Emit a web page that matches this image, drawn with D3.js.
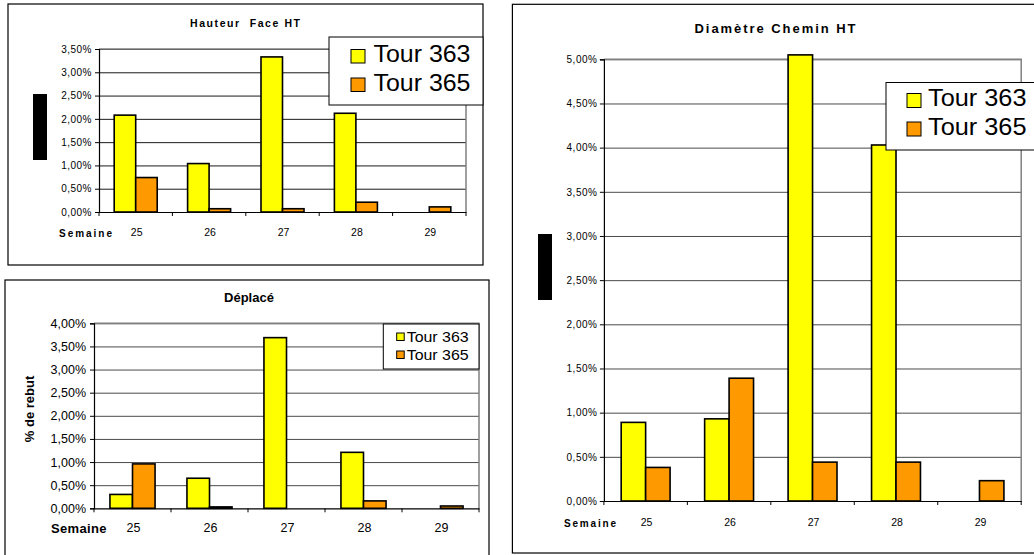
<!DOCTYPE html>
<html>
<head>
<meta charset="utf-8">
<script src="https://cdn.jsdelivr.net/npm/d3@7/dist/d3.min.js"></script>
<style>
  html, body { margin: 0; padding: 0; background: #fff; }
  svg { display: block; font-family: "Liberation Sans", Arial, sans-serif; }
</style>
</head>
<body>
<svg id="chart" width="1034" height="555"></svg>
<script>
// ---- Data ----
const weeks = ["25", "26", "27", "28", "29"];
const seriesNames = ["Tour 363", "Tour 365"];
const seriesColors = ["#FFFF00", "#FF9900"];

const hauteur363 = [2.08, 1.04, 3.33, 2.12, 0];
const hauteur365 = [0.74, 0.07, 0.07, 0.21, 0.11];

const deplace363 = [0.30, 0.65, 3.69, 1.21, 0];
const deplace365 = [0.96, 0.03, 0, 0.16, 0.05];

const diametre363 = [0.89, 0.93, 5.05, 4.03, 0];
const diametre365 = [0.38, 1.39, 0.44, 0.44, 0.23];

const ticksHauteur = [0, 0.5, 1, 1.5, 2, 2.5, 3, 3.5];
const ticksDeplace = [0, 0.5, 1, 1.5, 2, 2.5, 3, 3.5, 4];
const ticksDiametre = [0, 0.5, 1, 1.5, 2, 2.5, 3, 3.5, 4, 4.5, 5];

const titles = ["Hauteur  Face HT", "Déplacé", "Diamètre Chemin HT"];
const xAxisName = "Semaine";
const yAxisName = "% de rebut";

const pctFmt = v => d3.format(".2f")(v).replace(".", ",") + "%";

// ---- Layout configs ----
const charts = [
  {
    title: titles[0], titleX: 245, titleY: 26.7, titleSize: 10.5, titleLen: 110,
    box: [8, 4, 483, 265], plot: [99, 49, 466, 212],
    ticks: ticksHauteur, series: [hauteur363, hauteur365],
    ySize: 10, yGap: 7, ySpacing: 0.5,
    xLabelY: 235.7, xSize: 10.5,
    semaine: { x: 59, y: 237.3, size: 10, len: 53 },
    legend: { box: [329, 37, 483, 105], sx: 351, sy: 49.5, sw: 14, sh: 13.5, dy: 28.5, tx: 373.5, ty: 62.3, size: 24.5, len: 97 },
    blackRect: [33, 94, 14, 66], grid: "#1a1a1a"
  },
  {
    title: titles[1], titleX: 249, titleY: 301.7, titleSize: 13, titleLen: null,
    box: [5, 280, 489, 558], plot: [94, 323.3, 479, 508.3],
    ticks: ticksDeplace, series: [deplace363, deplace365],
    ySize: 12.5, yGap: 8, ySpacing: 0,
    xLabelY: 531.7, xSize: 12.5,
    semaine: { x: 51, y: 533.3, size: 13, len: 55.5 },
    legend: { box: [383.3, 324, 479, 369], sx: 396.7, sy: 333, sw: 7.5, sh: 7.5, dy: 18, tx: 406.7, ty: 341.7, size: 15, len: 62 },
    yTitle: { x: 34, y: 409, size: 13 }, grid: "#4a4a4a"
  },
  {
    title: titles[2], titleX: 775, titleY: 33.3, titleSize: 13, titleLen: 161,
    box: [512.4, 4.3, 1040, 553], plot: [603.9, 59.3, 1021.2, 501],
    ticks: ticksDiametre, series: [diametre363, diametre365],
    ySize: 10, yGap: 6.5, ySpacing: 0.5,
    xLabelY: 525.7, xSize: 10.5,
    semaine: { x: 564, y: 527, size: 10, len: 52 },
    legend: { box: [886, 82.5, 1040, 150], sx: 907, sy: 93.5, sw: 14, sh: 14, dy: 28.5, tx: 928, ty: 106, size: 24.5, len: 98.5 },
    blackRect: [538, 234, 14, 66], grid: "#4a4a4a"
  }
];

const svg = d3.select("#chart");

charts.forEach(cfg => {
  const g = svg.append("g");
  const [bx0, by0, bx1, by1] = cfg.box;
  const [px0, py0, px1, py1] = cfg.plot;

  // Outer frame
  g.append("rect")
    .attr("x", bx0).attr("y", by0)
    .attr("width", bx1 - bx0).attr("height", by1 - by0)
    .attr("fill", "#fff").attr("stroke", "#000").attr("stroke-width", 1.2);

  // Scales
  const x0 = d3.scaleBand().domain(weeks).range([px0, px1]).padding(0);
  const bw = x0.bandwidth();
  const x1 = d3.scaleBand().domain(seriesNames).range([bw * 0.207, bw * 0.793]).padding(0);
  const y = d3.scaleLinear().domain([0, d3.max(cfg.ticks)]).range([py1, py0]);

  // Gridlines
  const grid = g.append("g")
    .attr("transform", `translate(${px0},0)`)
    .call(d3.axisLeft(y).tickValues(cfg.ticks.slice(1)).tickSize(-(px1 - px0)).tickFormat(""));
  grid.select(".domain").remove();
  grid.selectAll("line").attr("stroke", cfg.grid).attr("stroke-width", 1);

  // Plot area border (top & right in gray)
  g.append("path")
    .attr("d", `M${px0},${y(d3.max(cfg.ticks))}H${px1}V${py1}`)
    .attr("fill", "none").attr("stroke", "#808080").attr("stroke-width", 1.5);

  // Bars
  cfg.series.forEach((vals, si) => {
    g.append("g").selectAll("rect")
      .data(weeks.map((w, i) => ({ w, v: vals[i] })).filter(d => d.v > 0))
      .join("rect")
      .attr("x", d => x0(d.w) + x1(seriesNames[si]))
      .attr("y", d => y(d.v))
      .attr("width", x1.bandwidth())
      .attr("height", d => y(0) - y(d.v))
      .attr("fill", seriesColors[si])
      .attr("stroke", "#000")
      .attr("stroke-width", 1.6);
  });

  // Y axis
  const yAx = g.append("g")
    .attr("transform", `translate(${px0},0)`)
    .call(d3.axisLeft(y).tickValues(cfg.ticks).tickSize(4).tickPadding(cfg.yGap - 4).tickFormat(pctFmt));
  yAx.select(".domain").attr("stroke", "#000").attr("stroke-width", 1.2);
  yAx.selectAll(".tick line").attr("stroke", "#000");
  yAx.selectAll("text")
    .attr("fill", "#000")
    .style("font-size", cfg.ySize + "px")
    .style("letter-spacing", cfg.ySpacing + "px")
    .style("font-family", '"Liberation Sans", Arial, sans-serif');

  // X axis line with boundary ticks
  const xAx = g.append("g")
    .attr("transform", `translate(0,${py1})`)
    .call(d3.axisBottom(x0).tickSize(0).tickFormat(""));
  xAx.select(".domain").attr("stroke", "#000").attr("stroke-width", 1.2);
  xAx.selectAll(".tick").remove();
  const bounds = weeks.map(w => x0(w)).concat([x0(weeks[weeks.length - 1]) + bw]);
  g.append("g").selectAll("line")
    .data(bounds)
    .join("line")
    .attr("x1", d => d).attr("x2", d => d)
    .attr("y1", py1).attr("y2", py1 + 4)
    .attr("stroke", "#000").attr("stroke-width", 1);

  // X tick labels
  g.append("g").selectAll("text")
    .data(weeks)
    .join("text")
    .attr("x", d => x0(d) + bw / 2 + 1)
    .attr("y", cfg.xLabelY)
    .attr("text-anchor", "middle")
    .style("font-size", cfg.xSize + "px")
    .text(d => d);

  // "Semaine"
  g.append("text")
    .attr("x", cfg.semaine.x).attr("y", cfg.semaine.y)
    .attr("font-weight", "bold")
    .style("font-size", cfg.semaine.size + "px")
    .attr("textLength", cfg.semaine.len)
    .attr("lengthAdjust", "spacing")
    .text(xAxisName);

  // Title
  const t = g.append("text")
    .attr("x", cfg.titleX).attr("y", cfg.titleY)
    .attr("text-anchor", "middle")
    .attr("font-weight", "bold")
    .style("font-size", cfg.titleSize + "px")
    .style("white-space", "pre")
    .attr("xml:space", "preserve")
    .text(cfg.title);
  if (cfg.titleLen) t.attr("textLength", cfg.titleLen).attr("lengthAdjust", "spacing");

  // Y title
  if (cfg.yTitle) {
    g.append("text")
      .attr("transform", `translate(${cfg.yTitle.x},${cfg.yTitle.y}) rotate(-90)`)
      .attr("text-anchor", "middle")
      .attr("font-weight", "bold")
      .style("font-size", cfg.yTitle.size + "px")
      .text(yAxisName);
  }

  // Black redaction block
  if (cfg.blackRect) {
    const [rx, ry, rw, rh] = cfg.blackRect;
    g.append("rect").attr("x", rx).attr("y", ry).attr("width", rw).attr("height", rh).attr("fill", "#000");
  }

  // Legend
  const L = cfg.legend;
  const [lx0, ly0, lx1, ly1] = L.box;
  g.append("rect")
    .attr("x", lx0).attr("y", ly0).attr("width", lx1 - lx0).attr("height", ly1 - ly0)
    .attr("fill", "#fff").attr("stroke", "#000").attr("stroke-width", 1);
  const items = g.append("g").selectAll("g").data(seriesNames).join("g");
  items.append("rect")
    .attr("x", L.sx).attr("y", (d, i) => L.sy + i * L.dy)
    .attr("width", L.sw).attr("height", L.sh)
    .attr("fill", (d, i) => seriesColors[i])
    .attr("stroke", "#000").attr("stroke-width", 1);
  items.append("text")
    .attr("x", L.tx).attr("y", (d, i) => L.ty + i * L.dy)
    .style("font-size", L.size + "px")
    .attr("textLength", L.len).attr("lengthAdjust", "spacingAndGlyphs")
    .text(d => d);
});
</script>
</body>
</html>
